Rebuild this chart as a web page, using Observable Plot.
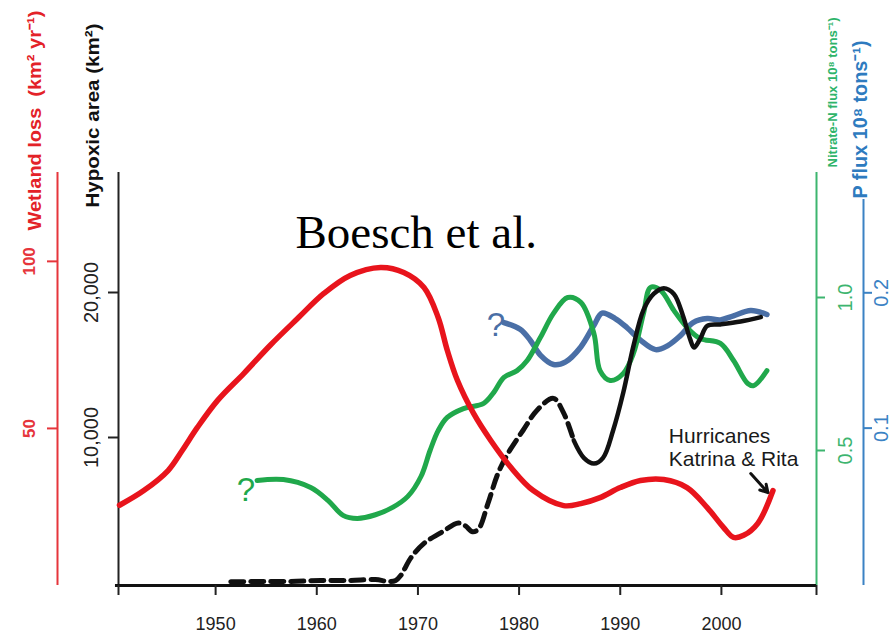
<!DOCTYPE html>
<html>
<head>
<meta charset="utf-8">
<script src="https://cdn.jsdelivr.net/npm/d3@7"></script>
<script src="https://cdn.jsdelivr.net/npm/@observablehq/plot@0.6"></script>
<style>
  body { margin: 0; background: #fff; }
  #wrap { position: relative; width: 891px; height: 638px; overflow: hidden; }
  #topline { position: absolute; left: 0; top: 0; width: 300px; height: 2px; background: #d4d4d4; }
  #wrap svg { position: absolute; left: 0; top: 0; }
</style>
</head>
<body>
<div id="wrap"><div id="topline"></div></div>
<script>
// ---------------- data ----------------
// Wetland loss (km² yr⁻¹) – red
const wetlandYear = [1940.5, 1942.9, 1945.3, 1946.7, 1948.2, 1950.2, 1952.8, 1955.4, 1958.1, 1960.7, 1963.3, 1966.3, 1968.6, 1970.6, 1972.0, 1972.9, 1973.9, 1975.5, 1977.2, 1979.2, 1981.4, 1984.4, 1986.1, 1988.0, 1990.0, 1992.0, 1994.3, 1996.6, 1998.6, 2000.2, 2001.2, 2002.2, 2003.6, 2005.1];
const wetlandLoss = [27, 31.4, 37.4, 43.4, 50.3, 58.4, 66.5, 74.9, 82.9, 90.4, 95.8, 98.2, 96.7, 92.2, 83.2, 73.4, 64.4, 54.5, 46.4, 38.3, 31.4, 26.9, 27.5, 29.3, 32.3, 34.4, 34.7, 32.3, 26.3, 20.4, 17.4, 18.0, 21.6, 31.4];

// Hypoxic area (km²) – black (dashed = estimated before 1985, solid = measured)
const hypoxicYear = [1951.5, 1954.4, 1957.4, 1960.4, 1963.3, 1965.8, 1967.1, 1967.8, 1968.3, 1969.3, 1970.6, 1972.2, 1974.0, 1974.7, 1975.4, 1976.0, 1976.9, 1977.9, 1978.9, 1980.4, 1981.8, 1983.4, 1984.4, 1985.4, 1986.4, 1987.4, 1988.3, 1989.3, 1990.3, 1991.3, 1992.3, 1993.3, 1994.3, 1995.3, 1996.2, 1996.9, 1997.3, 1997.9, 1998.6, 1999.9, 2001.9, 2003.9];
const hypoxicArea = [50, 70, 70, 140, 140, 200, 70, 140, 480, 1700, 2700, 3400, 4100, 3900, 3500, 3700, 5400, 7500, 8900, 10500, 11900, 12700, 11700, 9800, 8600, 8200, 8600, 10500, 13100, 16300, 18800, 19900, 20300, 19900, 18400, 16800, 16200, 16800, 17700, 17800, 18000, 18300];
const hypoxicMeasuredFrom = 1985.4;

// Nitrate-N flux (10⁸ tons⁻¹) – green
const nitrateYear = [1954.1, 1956.7, 1959.4, 1961.1, 1962.6, 1964.0, 1965.8, 1967.5, 1969.0, 1970.3, 1971.2, 1972.0, 1972.9, 1974.5, 1976.5, 1977.5, 1978.5, 1979.8, 1980.8, 1982.1, 1983.4, 1984.8, 1986.1, 1987.4, 1988.0, 1989.0, 1990.3, 1991.3, 1992.3, 1993.0, 1994.0, 1995.3, 1996.6, 1997.9, 1999.9, 2001.2, 2002.6, 2003.2, 2004.5];
const nitrateFlux = [0.402, 0.405, 0.379, 0.337, 0.288, 0.278, 0.290, 0.314, 0.350, 0.415, 0.500, 0.565, 0.608, 0.637, 0.654, 0.690, 0.739, 0.761, 0.794, 0.869, 0.948, 1.000, 0.984, 0.882, 0.761, 0.729, 0.752, 0.817, 0.948, 1.033, 1.023, 0.958, 0.902, 0.866, 0.850, 0.794, 0.719, 0.712, 0.761];

// P flux (10⁸ tons⁻¹) – blue
const phosphorusYear = [1978.5, 1980.1, 1981.1, 1982.1, 1983.4, 1984.6, 1986.1, 1987.4, 1988.2, 1989.5, 1990.7, 1992.0, 1993.5, 1994.7, 1995.9, 1997.2, 1998.6, 1999.9, 2001.2, 2002.9, 2004.5];
const phosphorusFlux = [0.178, 0.173, 0.165, 0.154, 0.147, 0.149, 0.160, 0.176, 0.185, 0.181, 0.174, 0.165, 0.158, 0.161, 0.168, 0.178, 0.181, 0.180, 0.183, 0.187, 0.184];

// ticks
const xTickYears = [1950, 1960, 1970, 1980, 1990, 2000];
const wetlandTicks = [50, 100];
const hypoxicTicks = [10000, 20000];
const nitrateTicks = [0.5, 1.0];
const phosphorusTicks = [0.1, 0.2];

// texts
const titleWetland = "Wetland loss  (km² yr⁻¹)";
const titleHypoxic = "Hypoxic area (km²)";
const titleNitrate = "Nitrate-N flux 10⁸ tons⁻¹)";
const titleP = "P flux 10⁸ tons⁻¹)";
const sourceLabel = "Boesch et al.";
const hurricaneLabel = "Hurricanes\nKatrina & Rita";
const hurricaneAt = {year: 1994.8, wetland: 44.4};
const arrowYear = [2002.9, 2004.6];
const arrowWetland = [36.5, 30.8];
const nitrateQuery = {year: 1953.0, flux: 0.369};
const phosphorusQuery = {year: 1977.7, flux: 0.1756};

// ---------------- axis mappings (each axis -> shared 0..1 frame scale) ----------------
const xDomain = [1940.4, 2009.4];
const wet  = d3.scaleLinear([2.99, 126.6], [0, 1]);
const hyp  = d3.scaleLinear([-207, 28276], [0, 1]);
const nit  = d3.scaleLinear([0.0588, 1.4085], [0, 1]);
const phos = d3.scaleLinear([-0.0163, 0.2889], [0, 1]);
const phosAxisTop = 0.269;

const RED = "#e8141c", GREEN = "#20a84b", BLUE = "#4a6fa6", BLACK = "#111";
const RED_AX = "#e6353b", GREEN_AX = "#3db56f", BLUE_AX = "#3b82c4";
const SANS = "'Liberation Sans', Arial, Helvetica, sans-serif";

const wetRows = wetlandYear.map((year, i) => ({year, v: wet(wetlandLoss[i])}));
const hypRows = hypoxicYear.map((year, i) => ({year, v: hyp(hypoxicArea[i])}));
const nitRows = nitrateYear.map((year, i) => ({year, v: nit(nitrateFlux[i])}));
const phosRows = phosphorusYear.map((year, i) => ({year, v: phos(phosphorusFlux[i])}));

const plot = Plot.plot({
  width: 891,
  height: 638,
  marginLeft: 118,
  marginRight: 75,
  marginTop: 172,
  marginBottom: 53,
  x: {domain: xDomain, label: null},
  y: {domain: [0, 1], label: null},
  style: {fontFamily: SANS, background: "white", color: "#111"},
  marks: [
    // axis lines
    Plot.ruleX([xDomain[0]], {y1: 0, y2: 1, stroke: "#222", strokeWidth: 2}),
    Plot.ruleX([xDomain[0]], {y1: 0, y2: 1, dx: -61, stroke: RED_AX, strokeWidth: 2}),
    Plot.ruleX([xDomain[1]], {y1: 0, y2: 1, stroke: GREEN_AX, strokeWidth: 2}),
    Plot.ruleX([xDomain[1]], {y1: 0, y2: phos(phosAxisTop), dx: 47, stroke: BLUE_AX, strokeWidth: 2}),
    Plot.ruleY([0], {x1: xDomain[0] - 0.3, x2: xDomain[1], stroke: "#111", strokeWidth: 3}),

    // axes
    Plot.axisX({
      ticks: [xDomain[0], ...xTickYears, xDomain[1]],
      tickFormat: d => xTickYears.includes(d) ? String(d) : "",
      tickSize: 10, tickPadding: 22, strokeWidth: 2, color: "#222",
      fontSize: 18, label: null
    }),
    Plot.axisY({
      anchor: "left", dx: -61, label: null,
      ticks: wetlandTicks.map(wet), tickFormat: d => String(Math.round(wet.invert(d))),
      tickSize: 10, tickPadding: 13, tickRotate: -90, strokeWidth: 2,
      color: RED_AX, fontSize: 17, fontWeight: "bold"
    }),
    Plot.axisY({
      anchor: "left", label: null,
      ticks: hypoxicTicks.map(hyp), tickFormat: d => d3.format(",")(Math.round(hyp.invert(d))),
      tickSize: 10, tickPadding: 11, tickRotate: -90, strokeWidth: 2,
      color: "#222", fontSize: 20
    }),
    Plot.axisY({
      anchor: "right", label: null, lineAnchor: "top",
      ticks: nitrateTicks.map(nit), tickFormat: d => nit.invert(d).toFixed(1),
      tickSize: 8, tickPadding: 13, tickRotate: -90, strokeWidth: 2,
      color: GREEN_AX, fontSize: 20
    }),
    Plot.axisY({
      anchor: "right", dx: 47, label: null, lineAnchor: "top",
      ticks: phosphorusTicks.map(phos), tickFormat: d => phos.invert(d).toFixed(1),
      tickSize: 8, tickPadding: 2, tickRotate: -90, strokeWidth: 2,
      color: BLUE_AX, fontSize: 20
    }),

    // axis titles
    Plot.text([titleWetland], {frameAnchor: "top-left", dx: -84, dy: 58, rotate: -90, textAnchor: "start", lineAnchor: "middle", fill: "#e32228", fontSize: 19, fontWeight: "bold"}),
    Plot.text([titleHypoxic], {frameAnchor: "top-left", dx: -26, dy: 35, rotate: -90, textAnchor: "start", lineAnchor: "middle", fill: "#111", fontSize: 19, fontWeight: "bold"}),
    Plot.text([titleNitrate], {frameAnchor: "top-right", dx: 16, dy: -5, rotate: -90, textAnchor: "start", lineAnchor: "middle", fill: "#2eb46a", fontSize: 13, fontWeight: "bold"}),
    Plot.text([titleP], {frameAnchor: "top-right", dx: 44, dy: 26, rotate: -90, textAnchor: "start", lineAnchor: "middle", fill: "#2e7bbf", fontSize: 20, fontWeight: "bold"}),

    // series
    Plot.line(phosRows, {x: "year", y: "v", stroke: BLUE, strokeWidth: 5.5, curve: "catmull-rom"}),
    Plot.line(nitRows, {x: "year", y: "v", stroke: GREEN, strokeWidth: 5, curve: "catmull-rom"}),
    Plot.line(hypRows.filter(d => d.year <= hypoxicMeasuredFrom), {x: "year", y: "v", stroke: BLACK, strokeWidth: 5, strokeDasharray: "13,7", curve: "catmull-rom"}),
    Plot.line(wetRows, {x: "year", y: "v", stroke: RED, strokeWidth: 5.5, curve: "catmull-rom"}),
    Plot.line(hypRows.filter(d => d.year >= hypoxicMeasuredFrom), {x: "year", y: "v", stroke: BLACK, strokeWidth: 4.5, curve: "catmull-rom"}),

    // question marks
    Plot.text([nitrateQuery], {x: "year", y: d => nit(d.flux), text: () => "?", fill: GREEN, fontSize: 33, lineAnchor: "middle"}),
    Plot.text([phosphorusQuery], {x: "year", y: d => phos(d.flux), text: () => "?", fill: BLUE, fontSize: 33, lineAnchor: "middle"}),

    // hurricane annotation
    Plot.text([hurricaneAt], {x: "year", y: d => wet(d.wetland), text: () => hurricaneLabel, textAnchor: "start", lineAnchor: "middle", lineHeight: 1.1, fontSize: 21, fill: "#1a1a1a"}),
    Plot.arrow([0], {x1: () => arrowYear[0], y1: () => wet(arrowWetland[0]), x2: () => arrowYear[1], y2: () => wet(arrowWetland[1]), stroke: BLACK, strokeWidth: 3, headLength: 10}),

    // source label
    Plot.text([sourceLabel], {frameAnchor: "top-left", dx: 177, dy: 60, textAnchor: "start", lineAnchor: "middle", fontSize: 47, fontFamily: "'Liberation Serif', 'Times New Roman', serif", fill: "#000"})
  ]
});

const lengths = new Map([[titleWetland, 220], [titleHypoxic, 184], [titleNitrate, 150], [titleP, 158]]);
d3.select(plot).selectAll("text").each(function () {
  const L = lengths.get(this.textContent) || lengths.get(this.textContent.replace(/\s+/g, " "));
  if (L) {
    this.setAttribute("textLength", L);
    this.setAttribute("lengthAdjust", "spacingAndGlyphs");
  }
});

document.getElementById("wrap").appendChild(plot);
</script>
</body>
</html>
